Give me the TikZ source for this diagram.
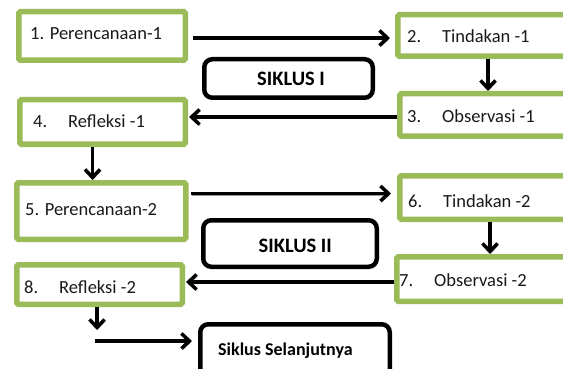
\documentclass[tikz,border=0pt]{standalone}
\usepackage{fontspec}
\setmainfont{Carlito}
\usepackage{xcolor}
\usepackage{tikz}
\usetikzlibrary{calc,arrows.meta,positioning}
\definecolor{stageGreen}{RGB}{155,187,89}
\definecolor{flowBlack}{RGB}{0,0,0}
\definecolor{flowShadow}{RGB}{150,150,150}

\tikzset{
    stage/.style={draw=stageGreen, line width=5.5pt, fill=white, rounded corners=1.5pt,
        inner sep=0pt},
    cyclebox/.style={draw=black, line width=4.5pt, fill=white, rounded corners=8pt,
        inner sep=0pt},
    stagetext/.style={anchor=base west, inner sep=0pt, text=black!90,
        font=\fontsize{18.5}{22}\selectfont},
    cycletext/.style={anchor=base west, inner sep=0pt, font=\bfseries\fontsize{20.5}{24}\selectfont},
    flow/.style={draw=flowBlack, line width=3.5pt, -{Straight Barb[length=8pt,width=15pt]},
        preaction={draw=flowShadow, transform canvas={shift={(1pt,-1.6pt)}}}},
}

\newcommand{\numlabel}[2]{\makebox[35pt][l]{#1}#2}

\begin{document}
\begin{tikzpicture}[x=1pt,y=-1pt]

\useasboundingbox (0,0) rectangle (563,369);
\clip (0,0) rectangle (563,369);

% =========================
% Siklus I
% =========================
\node[stage, minimum width=166.5pt, minimum height=48.5pt] (b1) at (102,36) {};
\node[stage, minimum width=178.5pt, minimum height=41.5pt] (b2) at (487,35.5) {};
\node[stage, minimum width=176.5pt, minimum height=42.5pt] (b3) at (488,115) {};
\node[stage, minimum width=165.5pt, minimum height=44.5pt] (b4) at (102.5,122) {};
\node[cyclebox, minimum width=168.5pt, minimum height=38.5pt] (s1) at (288.5,78.5) {};

\node[stagetext] (t1) at (30,40) {1. Perencanaan-1};
\node[stagetext] (t2) at (407,43) {\numlabel{2.}{Tindakan -1}};
\node[stagetext] (t3) at (407,122) {\numlabel{3.}{Observasi -1}};
\node[stagetext] (t4) at (33,128) {\numlabel{4.}{Refleksi -1}};
\node[cycletext] (ts1) at (257,85) {SIKLUS I};

\draw[flow, shorten <=5pt, shorten >=5pt] ([yshift=-2pt]b1.east) -- ([yshift=-2pt]b1.east -| b2.west);
\draw[flow] ([xshift=1pt]b2.south) -- ([xshift=1pt]b2.south |- b3.north);
\draw[flow, shorten >=1pt] ([yshift=-2pt]b3.west) -- ([yshift=-2pt]b3.west -| b4.east);

% =========================
% Siklus II
% =========================
\node[stage, minimum width=169pt, minimum height=56.5pt] (b5) at (101.25,211) {};
\node[stage, minimum width=176.5pt, minimum height=43.5pt] (b6) at (488,197.5) {};
\node[stage, minimum width=179.5pt, minimum height=44.5pt] (b7) at (486.5,279) {};
\node[stage, minimum width=165.5pt, minimum height=39.5pt] (b8) at (99.5,284.5) {};
\node[cyclebox, minimum width=173.5pt, minimum height=46.5pt] (s2) at (290,243.5) {};

\node[stagetext] (t5) at (25,215) {5. Perencanaan-2};
\node[stagetext] (t6) at (408,207) {\numlabel{6.}{Tindakan -2}};
\node[stagetext] (t7) at (399,286) {\numlabel{7.}{Observasi -2}};
\node[stagetext] (t8) at (24,293) {\numlabel{8.}{Refleksi -2}};
\node[cycletext] (ts2) at (258.5,252) {SIKLUS II};

\draw[flow] ([xshift=-10pt]b4.south) -- ([xshift=-10pt]b4.south |- b5.north);
\draw[flow, shorten <=2pt, shorten >=6pt] ([yshift=4pt]b6.west -| b5.east) -- ([yshift=4pt]b6.west);
\draw[flow] ([xshift=2pt]b6.south) -- ([xshift=2pt]b6.south |- b7.north);
\draw[flow, shorten >=1pt] ([yshift=2.5pt]b8.east -| b7.west) -- ([yshift=2.5pt]b8.east);

% =========================
% Next cycle
% =========================
\node[cyclebox, minimum width=189.5pt, minimum height=58.5pt] (sn) at (295,353.5) {};
\node[cycletext, font=\bfseries\fontsize{18}{22}\selectfont] (tsn) at (218,355) {Siklus Selanjutnya};

\coordinate (d8) at (97,330);
\coordinate (h8) at (95,341);
\draw[flow] (b8.south -| d8) -- (d8);
\draw[flow, shorten >=6pt] (h8) -- (h8 -| sn.west);

\end{tikzpicture}
\end{document}
